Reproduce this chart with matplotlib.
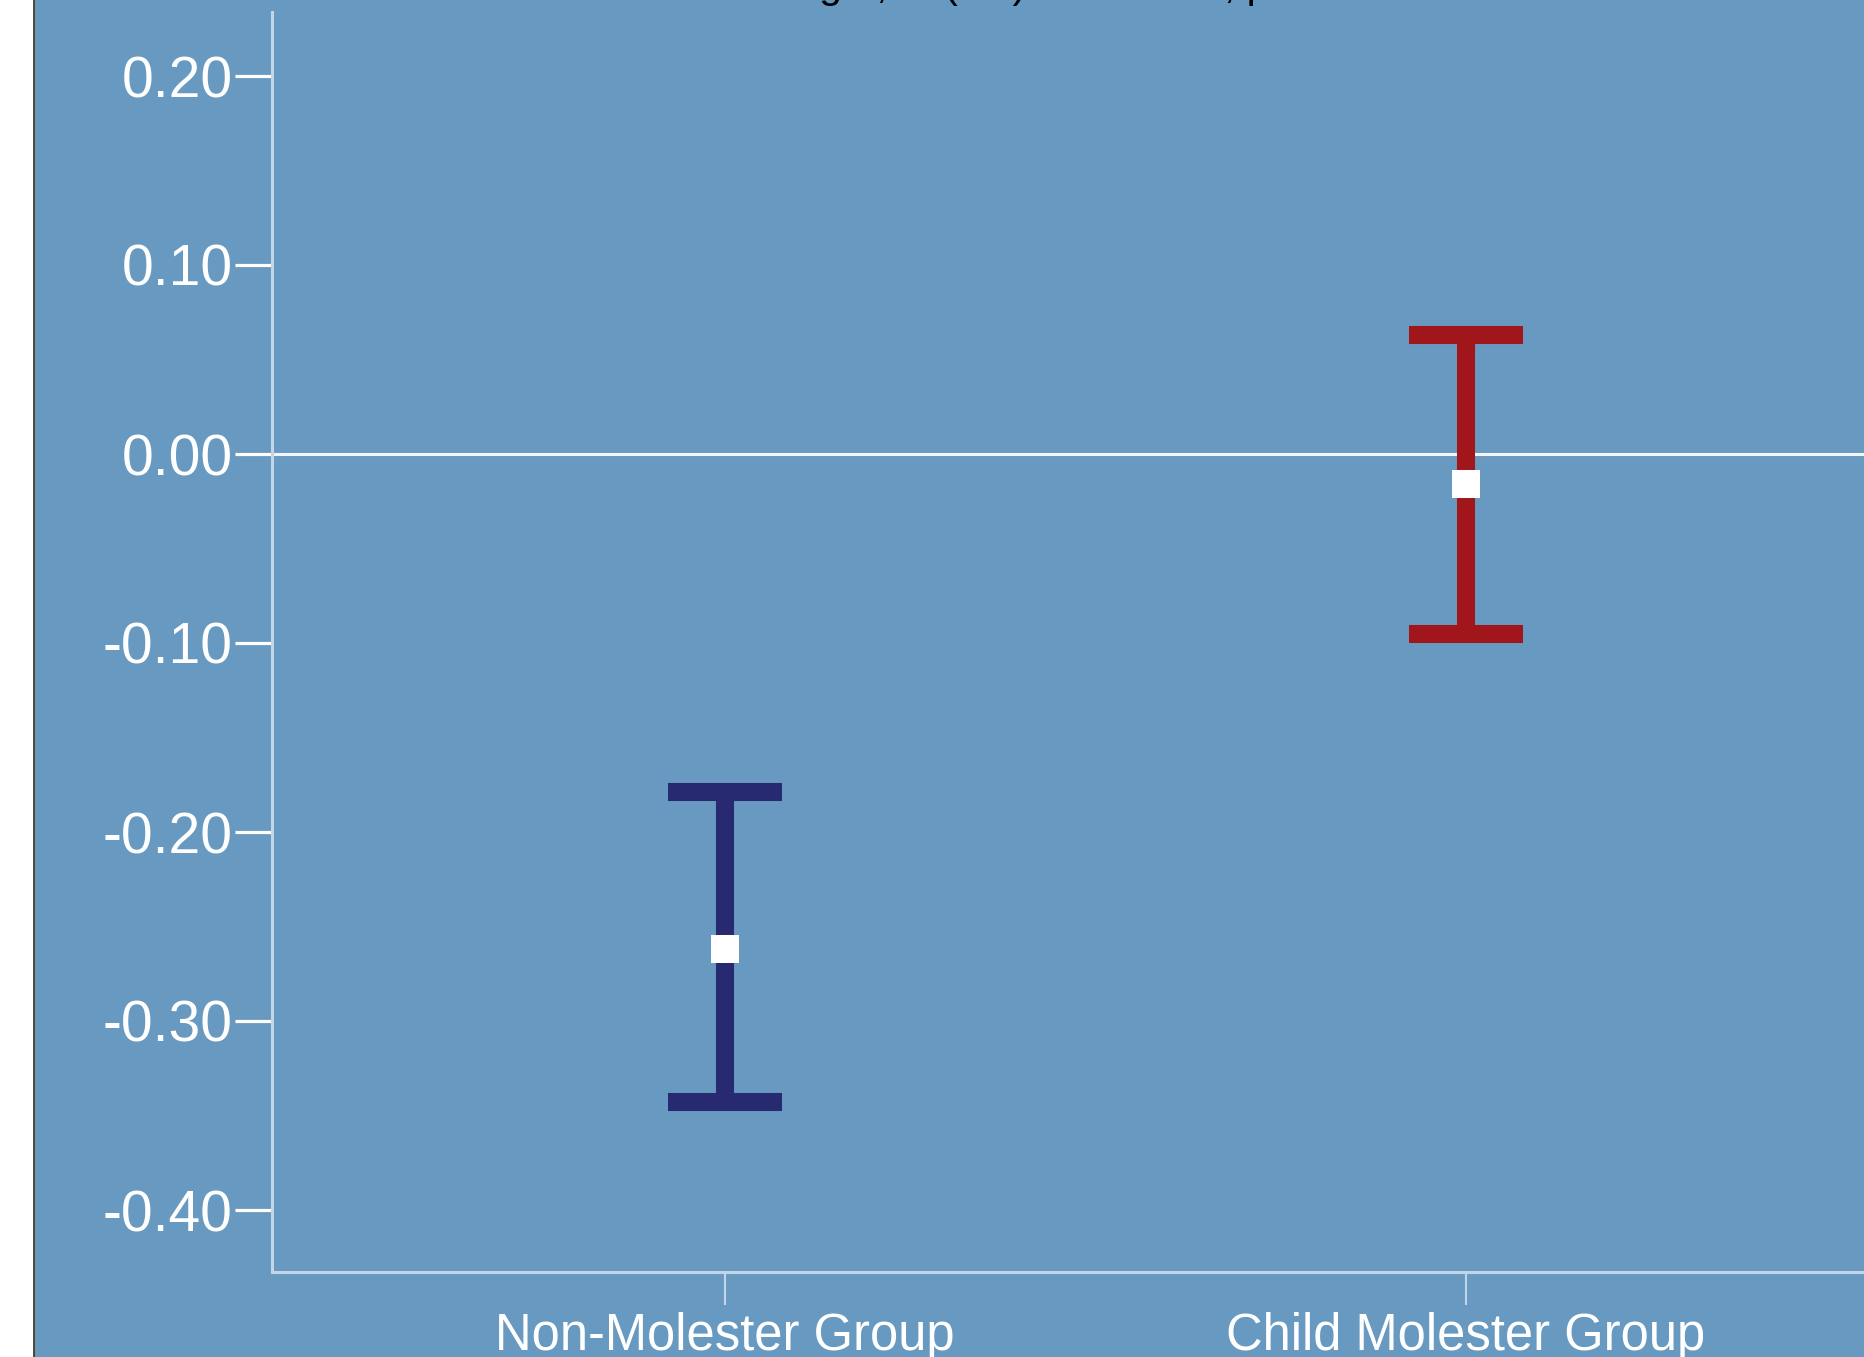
import matplotlib
matplotlib.use('Agg')
import matplotlib.pyplot as plt
from matplotlib.patches import Rectangle
from matplotlib.lines import Line2D

plt.rcParams['font.family'] = ['Liberation Sans', 'DejaVu Sans']

# data
groups = ['Non-Molester Group', 'Child Molester Group']
means = [-0.262, -0.016]
lower = [-0.343, -0.095]
upper = [-0.179, 0.063]
colors = ['#272A70', '#A0161A']
yticks = [-0.40, -0.30, -0.20, -0.10, 0.00, 0.10, 0.20]
title = 'Association Strength, M (SE) Difference, p < .05'

bg = '#6899C1'
axis_col = '#C2D6E8'

W, H = 1864, 1357
fig = plt.figure(figsize=(W / 100, H / 100), dpi=100)
fig.patch.set_facecolor('white')

# blue panel with a thin dark edge on the left
fig.patches.append(Rectangle((34 / W, 0), 1, 1, transform=fig.transFigure,
                             facecolor=bg, edgecolor='none', zorder=-2))
fig.lines.append(Line2D([33.5 / W, 33.5 / W], [0, 1], transform=fig.transFigure,
                        color='#4a3a22', lw=1.3, zorder=-1))

left, right, bottom, top = 272, 1864, 1272, 12
ax = fig.add_axes([left / W, (H - bottom) / H, (right - left) / W, (bottom - top) / H])
ax.set_facecolor(bg)

x = list(range(len(groups)))
for i in x:
    ax.errorbar(x[i], means[i],
                yerr=[[means[i] - lower[i]], [upper[i] - means[i]]],
                fmt='none', ecolor=colors[i], elinewidth=13,
                capsize=41, capthick=13, zorder=3)
ax.plot(x, means, 's', color='white', markersize=19.5, markeredgewidth=0, zorder=5)

ax.axhline(0, color='#F2F5FA', lw=2.2, zorder=2)

ax.set_xlim(-(725 - left) / 741, (right - 725) / 741)
ax.set_ylim(-(bottom - 454) / 1890, (454 - top) / 1890)

ax.set_yticks(yticks)
ax.set_yticklabels([f'{v:.2f}' for v in yticks])
ax.set_xticks(x)
ax.set_xticklabels(groups)

for s in ['top', 'right']:
    ax.spines[s].set_visible(False)
for s in ['left', 'bottom']:
    ax.spines[s].set_color(axis_col)
    ax.spines[s].set_linewidth(2.2)

ax.tick_params(axis='y', colors='white', labelsize=41, length=26.5, width=2.3, pad=2)
ax.tick_params(axis='x', colors=axis_col, labelcolor='white', labelsize=36.5,
               length=24, width=1.5, pad=5)

# title sits above the visible area, only its descenders show
fig.text(500 / W, 1.0015, title, ha='left', va='baseline', fontsize=29.5, color='black')

fig.savefig('out.png', dpi=100)
